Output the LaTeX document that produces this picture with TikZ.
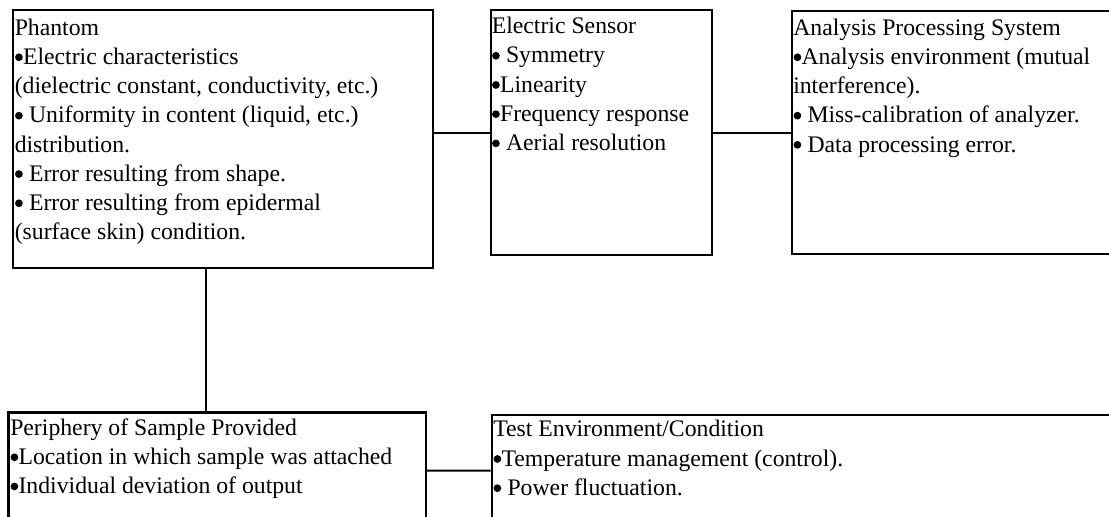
\documentclass[tikz,border=0pt]{standalone}
\usepackage{fontspec}
\setmainfont{Liberation Serif}
\usetikzlibrary{fit}
\tikzset{
  x=0.75pt, y=-0.75pt,
  box/.style={draw, line width=1.8pt, inner sep=0pt},
  link/.style={line width=1.5pt},
  txt/.style={anchor=north west, inner sep=0pt, align=left,
    font=\fontsize{17.8pt}{21.9pt}\selectfont},
}
% strut that puts the first baseline 25 units below the text node's top
\newcommand{\firstline}{\rule{0pt}{18.75pt}}
% a full round bullet, kept at the usual bullet width
\newcommand{\bul}{\makebox[0.35em][c]{\tikz[baseline=0pt]\fill[black] (0pt,5.4pt) circle[radius=2.9pt];}}

\begin{document}
\begin{tikzpicture}
\useasboundingbox (0,0) rectangle (1109,517);
\fill[white] (0,0) rectangle (1109,517);
\clip (0,0) rectangle (1109,517);

% frames
\node[box, fit={(13,10) (433,268)}] (phantom) {};
\node[box, fit={(490.7,10) (712,255)}] (sensor) {};
\node[box, fit={(791.7,11) (1125,254)}] (analysis) {};
\node[box, fit={(8.3,412.3) (426,529)}] (periphery) {};
\node[box, fit={(491.7,415) (1125,526.4)}] (testenv) {};

% contents
\node[txt] (phantomtxt) at (14.5,10) {\firstline Phantom\\
\bul Electric characteristics\\
(dielectric constant, conductivity, etc.)\\
\bul{} Uniformity in content (liquid, etc.)\\
distribution.\\
\bul{} Error resulting from shape.\\
\bul{} Error resulting from epidermal\\
(surface skin) condition.};

\node[txt] (sensortxt) at (491.5,8.5) {\firstline Electric Sensor\\
\bul{} Symmetry\\
\bul Linearity\\
\bul Frequency response\\
\bul{} Aerial resolution};

\node[txt] (analysistxt) at (793,10) {\firstline Analysis Processing System\\
\bul Analysis environment (mutual\\
interference).\\
\bul{} Miss-calibration of analyzer.\\
\bul{} Data processing error.};

\node[txt] (peripherytxt) at (10,410) {\firstline Periphery of Sample Provided\\
\bul Location in which sample was attached\\
\bul Individual deviation of output};

\node[txt] (testenvtxt) at (493,411.7) {\firstline Test Environment/Condition\\
\bul Temperature management (control).\\
\bul{} Power fluctuation.};

% connectors
\coordinate (drop) at (206,340);
\draw[link] (sensor.west) -- (sensor.west -| phantom.east);
\draw[link] (sensor.east) -- (analysis.west);
\draw[link] (drop |- phantom.south) -- (drop |- periphery.north);
\draw[link] (periphery.east) -- (testenv.west);
\end{tikzpicture}
\end{document}
